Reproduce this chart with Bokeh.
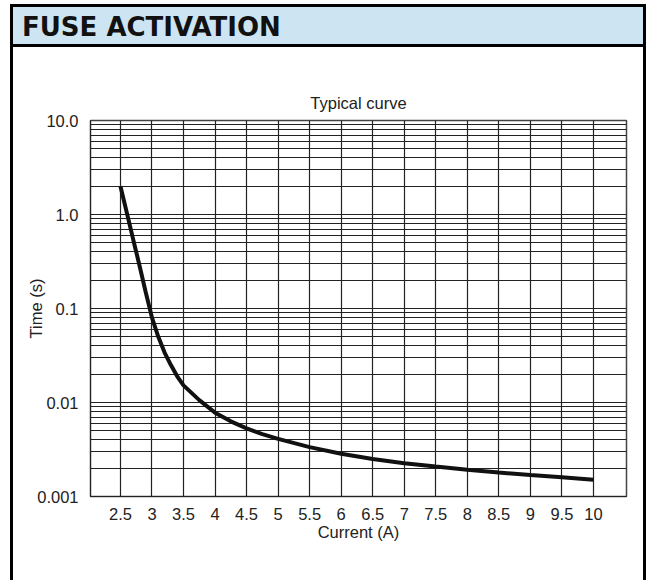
from bokeh.plotting import figure
from bokeh.models import Div, FixedTicker, Range1d
from bokeh.layouts import column, row
from bokeh.embed import file_html
from bokeh.resources import INLINE

# ---- data ----
header_text = "FUSE ACTIVATION"
chart_title = "Typical curve"
x_label = "Current (A)"
y_label = "Time (s)"

current = [2.5, 2.6, 2.7, 2.8, 2.9, 3.0, 3.1, 3.2, 3.3, 3.4, 3.5, 3.75, 4.0, 4.25,
           4.5, 4.75, 5.0, 5.5, 6.0, 6.5, 7.0, 7.5, 8.0, 8.5, 9.0, 9.5, 10.0]
time_s = [2.0, 1.05, 0.55, 0.29, 0.15, 0.08, 0.05, 0.034, 0.025, 0.019, 0.0152,
          0.0106, 0.0078, 0.0063, 0.0053, 0.0046, 0.0041, 0.00335, 0.00285, 0.0025,
          0.00226, 0.00208, 0.00193, 0.0018, 0.00169, 0.0016, 0.00151]

x_ticks = [2.5, 3.0, 3.5, 4.0, 4.5, 5.0, 5.5, 6.0, 6.5, 7.0, 7.5, 8.0, 8.5, 9.0, 9.5, 10.0]
x_tick_labels = ["2.5", "3", "3.5", "4", "4.5", "5", "5.5", "6", "6.5", "7",
                 "7.5", "8", "8.5", "9", "9.5", "10"]
y_ticks = [0.001, 0.01, 0.1, 1.0, 10.0]
y_tick_labels = ["0.001", "0.01", "0.1", "1.0", "10.0"]
y_minor_ticks = [m * d for d in (0.001, 0.01, 0.1, 1.0) for m in range(2, 10)]

FONT = "Liberation Sans"
FS = "16.5px"
GRID = "#222222"
FIG_H = 533

p = figure(width=630, height=FIG_H,
           x_range=Range1d(2.025, 10.525), y_range=Range1d(0.001, 10.0),
           y_axis_type="log", output_backend="svg", toolbar_location=None,
           min_border_left=77, min_border_right=17, min_border_top=73,
           min_border_bottom=FIG_H - 73 - 376, title=chart_title)

p.title.align = "center"
p.title.text_font = FONT
p.title.text_font_size = FS
p.title.text_font_style = "normal"
p.title.text_color = "#222222"
p.title.standoff = 18

p.xaxis.ticker = FixedTicker(ticks=x_ticks)
p.yaxis.ticker = FixedTicker(ticks=y_ticks, minor_ticks=y_minor_ticks)
p.xaxis.major_label_overrides = dict(zip(x_ticks, x_tick_labels))
p.yaxis.major_label_overrides = dict(zip(y_ticks, y_tick_labels))

p.axis.major_tick_line_color = None
p.axis.minor_tick_line_color = None
p.axis.major_tick_out = 0
p.axis.major_tick_in = 0
p.axis.minor_tick_out = 0
p.axis.axis_line_color = "#222222"
p.axis.major_label_text_font = FONT
p.axis.major_label_text_font_size = FS
p.axis.major_label_text_color = "#222222"
p.axis.axis_label_text_font = FONT
p.axis.axis_label_text_font_size = FS
p.axis.axis_label_text_font_style = "normal"
p.axis.axis_label_text_color = "#222222"
p.xaxis.major_label_standoff = 11
p.yaxis.major_label_standoff = 12
p.xaxis.axis_label_standoff = 0
p.yaxis.axis_label_standoff = -11
p.xaxis.axis_label = x_label
p.yaxis.axis_label = y_label

p.xgrid.grid_line_color = GRID
p.xgrid.grid_line_width = 1.2
p.ygrid.grid_line_color = GRID
p.ygrid.grid_line_width = 1.2
p.ygrid.minor_grid_line_color = GRID
p.ygrid.minor_grid_line_width = 1.2

p.outline_line_color = "#444444"
p.outline_line_width = 1.5
p.background_fill_color = "white"
p.border_fill_color = "white"

p.line(current, time_s, line_width=4, line_color="#111111")

header = Div(
    text=('<div style="box-sizing:border-box;width:636px;height:43px;'
          'border:3px solid #000;background:#cde5f2;padding:3px 0 0 9px;'
          'font-family:\'DejaVu Sans\';font-weight:bold;font-size:26px;'
          'line-height:34px;color:#111;white-space:nowrap;">'
          + header_text + '</div>'),
    width=636, height=43, margin=0)
bar_html = '<div style="width:3px;height:%dpx;background:#000;"></div>' % FIG_H
left_bar = Div(text=bar_html, width=3, height=FIG_H, margin=0)
right_bar = Div(text=bar_html, width=3, height=FIG_H, margin=0)

layout = column(header, row(left_bar, p, right_bar, spacing=0), spacing=0,
                margin=(4, 0, 0, 10))

with open("out.html", "w") as f:
    f.write(file_html(layout, INLINE))
